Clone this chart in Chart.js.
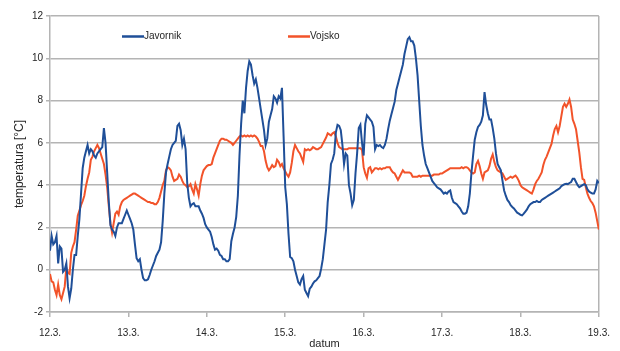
<!DOCTYPE html>
<html>
<head>
<meta charset="utf-8">
<script src="https://cdn.jsdelivr.net/npm/chart.js@4/dist/chart.umd.min.js"></script>
<style>
  html, body { margin: 0; padding: 0; background: #ffffff; }
  #wrap { width: 620px; height: 351px; }
</style>
</head>
<body>
<div id="wrap"><canvas id="c" width="620" height="351"></canvas></div>
<script>
// Day boundaries on the time axis (one label every 24 h)
const dayLabels = ['12.3.', '13.3.', '14.3.', '15.3.', '16.3.', '17.3.', '18.3.', '19.3.'];
const hoursPerDay = 24;
const stepHours = 0.5;          // half-hourly readings

// Air temperature [°C] every 30 min, Javornik
const javornik = [
  0.9, 1.6, 1.2, 1.3, 1.6, 0.3, 1.1, 1.0, -0.1, 0.0,
  0.3, -0.8, -1.35, -0.9, 0.0, 0.7, 0.7, 1.6, 2.4, 3.6,
  4.8, 5.3, 5.6, 5.9, 5.5, 5.7, 5.6, 5.4, 5.3, 5.5,
  5.6, 5.7, 5.8, 6.7, 6.0, 4.6, 3.2, 2.1, 1.9, 1.8,
  1.6, 2.0, 2.2, 2.2, 2.2, 2.4, 2.6, 2.8, 2.6, 2.4,
  2.2, 1.9, 1.2, 0.55, 0.4, 0.5, 0.0, -0.4, -0.5, -0.5,
  -0.45, -0.25, 0.0, 0.2, 0.4, 0.65, 0.8, 0.95, 1.3, 2.3,
  3.6, 4.6, 5.0, 5.35, 5.7, 5.9, 6.0, 6.1, 6.8, 6.9,
  6.6, 5.9, 6.2, 5.7, 4.1, 3.4, 3.0, 3.1, 3.15, 3.0,
  3.0, 3.0, 2.8, 2.65, 2.45, 2.15, 2.0, 1.9, 1.8, 1.55,
  1.2, 0.95, 1.0, 0.9, 0.7, 0.65, 0.5, 0.5, 0.4, 0.4,
  0.5, 1.35, 1.7, 2.0, 2.5, 3.5, 5.4, 6.9, 8.0, 7.4,
  8.6, 9.4, 9.85, 9.7, 9.2, 8.8, 9.0, 8.6, 8.1, 7.6,
  7.1, 6.6, 5.9, 6.2, 7.0, 7.3, 7.6, 8.2, 8.1, 7.9,
  8.2, 8.1, 8.6, 6.3, 3.9, 3.1, 1.7, 0.6, 0.55, 0.4,
  0.0, -0.3, -0.6, -0.7, -0.45, -0.3, -0.95, -1.1, -1.25, -0.9,
  -0.8, -0.65, -0.55, -0.5, -0.4, -0.3, 0.05, 0.5, 1.2, 1.9,
  3.2, 4.0, 5.0, 5.2, 5.5, 6.5, 6.85, 6.8, 6.6, 5.9,
  5.0, 5.5, 5.4, 4.0, 3.6, 3.05, 3.3, 4.55, 5.5, 6.7,
  6.85, 6.0, 5.4, 6.9, 7.3, 7.2, 7.1, 7.0, 6.75, 5.7,
  5.9, 5.85, 5.9, 5.8, 5.75, 5.9, 6.2, 6.65, 7.05, 7.35,
  7.65, 7.95, 8.5, 8.8, 9.1, 9.4, 9.7, 10.2, 10.55, 10.9,
  11.0, 10.8, 10.8, 10.6, 10.0, 9.2, 8.0, 6.8, 5.9, 5.4,
  5.0, 4.8, 4.6, 4.4, 4.2, 4.1, 4.0, 3.9, 3.85, 3.8,
  3.7, 3.6, 3.65, 3.6, 3.7, 3.75, 3.4, 3.2, 3.15, 3.1,
  3.0, 2.9, 2.75, 2.65, 2.65, 2.7, 3.0, 3.6, 4.6, 5.4,
  6.15, 6.5, 6.75, 6.85, 7.0, 7.3, 8.4, 7.8, 7.4, 7.1,
  7.1, 6.7, 6.2, 5.5, 5.0, 4.85, 4.7, 4.2, 3.75, 3.5,
  3.3, 3.2, 3.05, 2.97, 2.9, 2.8, 2.7, 2.65, 2.6, 2.57,
  2.65, 2.75, 2.85, 3.0, 3.1, 3.15, 3.2, 3.2, 3.25, 3.2,
  3.2, 3.3, 3.35, 3.4, 3.45, 3.5, 3.55, 3.6, 3.65, 3.7,
  3.75, 3.8, 3.85, 3.95, 4.0, 4.05, 4.07, 4.05, 4.1, 4.15,
  4.3, 4.3, 4.15, 4.0, 3.9, 3.95, 4.0, 4.05, 4.0, 3.8,
  3.7, 3.65, 3.6, 3.6, 3.8, 4.2, 4.1
];

// Air temperature [°C] every 30 min, Vojsko
const vojsko = [
  -0.2, -0.55, -0.6, -0.95, -1.2, -0.7, -1.2, -1.4, -1.1, -0.8,
  0.1, -0.15, -0.2, 0.8, 1.1, 1.3, 1.9, 2.55, 2.8, 3.05,
  3.25, 3.5, 3.95, 4.3, 4.6, 5.2, 5.35, 5.6, 5.75, 5.9,
  5.75, 5.5, 5.25, 5.0, 4.5, 3.9, 3.0, 2.2, 1.75, 2.2,
  2.65, 2.75, 2.6, 3.0, 3.2, 3.3, 3.35, 3.4, 3.45, 3.5,
  3.55, 3.6, 3.6, 3.55, 3.5, 3.45, 3.4, 3.35, 3.3, 3.25,
  3.2, 3.2, 3.15, 3.15, 3.1, 3.1, 3.2, 3.4, 3.7, 4.0,
  4.2, 4.7, 4.85, 4.8, 4.7, 4.4, 4.2, 4.25, 4.3, 4.5,
  4.4, 4.2, 4.05, 4.0, 3.9, 3.95, 4.05, 3.8, 3.6, 4.05,
  3.8, 3.5, 4.05, 4.45, 4.7, 4.8, 4.9, 4.95, 4.95, 5.0,
  5.3, 5.5, 5.7, 5.9, 6.1, 6.2, 6.2, 6.15, 6.15, 6.1,
  6.05, 6.0, 5.9, 6.0, 6.1, 6.2, 6.3, 6.35, 6.3, 6.35,
  6.3, 6.35, 6.3, 6.35, 6.3, 6.35, 6.3, 6.2, 6.05, 5.85,
  5.85, 5.6, 5.15, 4.85, 4.7, 4.8, 4.95, 4.85, 4.9, 5.2,
  5.1, 4.9, 5.0, 4.8, 4.65, 4.5, 4.4, 4.6, 5.05, 5.6,
  5.9, 5.75, 5.6, 5.5, 5.3, 5.1, 5.7, 5.65, 5.7, 5.65,
  5.7, 5.8, 5.75, 5.7, 5.7, 5.75, 5.8, 5.95, 6.1, 6.25,
  6.45, 6.4, 6.35, 6.45, 6.5, 6.3, 6.0, 5.8, 5.75, 5.7,
  5.7, 5.7, 5.7, 5.75, 5.75, 5.75, 5.75, 5.75, 5.75, 5.75,
  5.75, 5.65, 4.85, 4.55, 4.35, 4.8, 4.85, 4.6, 4.7, 4.8,
  4.8, 4.75, 4.8, 4.75, 4.8, 4.8, 4.85, 4.85, 4.85, 4.7,
  4.6, 4.55, 4.4, 4.25, 4.4, 4.55, 4.7, 4.6, 4.6, 4.6,
  4.6, 4.55, 4.4, 4.4, 4.4, 4.4, 4.45, 4.4, 4.45, 4.45,
  4.45, 4.45, 4.45, 4.45, 4.45, 4.5, 4.5, 4.5, 4.5, 4.55,
  4.55, 4.6, 4.65, 4.7, 4.75, 4.8, 4.8, 4.8, 4.8, 4.8,
  4.8, 4.8, 4.85, 4.8, 4.85, 4.85, 4.8, 4.7, 4.6, 4.55,
  4.6, 5.0, 5.15, 4.9, 4.55, 4.3, 4.6, 4.65, 4.7, 4.9,
  5.25, 5.45, 5.1, 4.85, 4.7, 4.65, 4.6, 4.55, 4.4, 4.25,
  4.3, 4.35, 4.4, 4.35, 4.4, 4.45, 4.35, 4.2, 4.0, 3.9,
  3.85, 3.8, 3.75, 3.7, 3.65, 3.6, 3.8, 4.05, 4.2, 4.3,
  4.45, 4.6, 4.95, 5.2, 5.35, 5.55, 5.75, 5.95, 6.35, 6.65,
  6.8, 6.5, 6.8, 7.25, 7.7, 7.85, 7.7, 7.85, 8.05, 7.7,
  7.1, 6.9, 6.65, 6.1, 5.55, 4.85, 4.3, 4.25, 3.9, 3.6,
  3.4, 3.25, 3.15, 3.0, 2.7, 2.3, 1.9
];

// Temperature axis range
const yMin = -2;
const yMax = 12;
const yStep = 2;

const seriesNames = ['Javornik', 'Vojsko'];

const toPoints = arr => arr.map((v, i) => ({ x: i * stepHours, y: v }));

const gridColor = '#b4b4b4';
const textColor = '#262626';
const FONT = '"Liberation Sans", Arial, Helvetica, sans-serif';

Chart.defaults.font.family = FONT;
Chart.defaults.font.size = 10;
Chart.defaults.color = textColor;

// Legend drawn inside the plot, near its top edge
const inlineLegend = {
  id: 'inlineLegend',
  afterDatasetsDraw(chart) {
    const { ctx, chartArea } = chart;
    const offsets = [72, 238];
    const y = chartArea.top + 20.5;
    ctx.save();
    chart.data.datasets.forEach((ds, i) => {
      const x0 = chartArea.left + offsets[i];
      ctx.strokeStyle = ds.borderColor;
      ctx.lineWidth = 2.5;
      ctx.beginPath();
      ctx.moveTo(x0, y);
      ctx.lineTo(x0 + 22, y);
      ctx.stroke();
      ctx.fillStyle = textColor;
      ctx.font = '10px ' + FONT;
      ctx.textAlign = 'left';
      ctx.textBaseline = 'middle';
      ctx.fillText(ds.label, x0 + 22, y);
    });
    ctx.restore();
  }
};

const lastDay = (dayLabels.length - 1) * hoursPerDay;

new Chart(document.getElementById('c'), {
  type: 'line',
  data: {
    datasets: [
      {
        label: seriesNames[0],
        data: toPoints(javornik),
        borderColor: '#1f4f98',
        borderWidth: 2,
        pointRadius: 0,
        tension: 0,
        fill: false
      },
      {
        label: seriesNames[1],
        data: toPoints(vojsko),
        borderColor: '#f2532a',
        borderWidth: 2,
        pointRadius: 0,
        tension: 0,
        fill: false
      }
    ]
  },
  options: {
    responsive: false,
    animation: false,
    devicePixelRatio: 1,
    layout: { padding: { top: 16, right: 16, bottom: 0, left: 0 } },
    plugins: {
      legend: { display: false },
      tooltip: { enabled: false }
    },
    scales: {
      x: {
        type: 'linear',
        min: 0,
        max: lastDay,
        ticks: {
          stepSize: hoursPerDay,
          autoSkip: false,
          maxRotation: 0,
          padding: 10,
          callback: v => dayLabels[Math.round(v / hoursPerDay)]
        },
        grid: {
          drawOnChartArea: true,
          color: c => (c.tick && c.tick.value === lastDay) ? gridColor : 'rgba(0,0,0,0)',
          tickColor: gridColor,
          tickLength: 5,
          lineWidth: 1.5
        },
        border: { color: gridColor, width: 1.5 },
        title: { display: true, text: 'datum', font: { size: 11 }, padding: { top: 0, bottom: 0 } },
        afterFit(scale) { scale.height = 39; }
      },
      y: {
        min: yMin,
        max: yMax,
        ticks: { stepSize: yStep, padding: 3 },
        grid: { color: gridColor, tickLength: 4, lineWidth: 1.5 },
        border: { color: gridColor, width: 1.5 },
        title: { display: true, text: 'temperatura [°C]', font: { size: 12 }, padding: { top: 12.3, bottom: 0 } },
        afterFit(scale) { scale.width = 50; }
      }
    }
  },
  plugins: [inlineLegend]
});
</script>
</body>
</html>
